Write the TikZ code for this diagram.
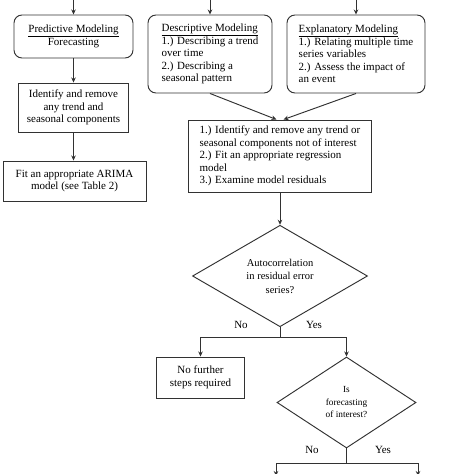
\documentclass[tikz,border=0pt]{standalone}
\usepackage{fontspec}
\setmainfont{Liberation Serif}
\usetikzlibrary{arrows.meta,shapes.geometric}
\definecolor{lineGray}{RGB}{50,50,50}

\begin{document}
\begin{tikzpicture}[x=1pt, y=-1pt, >={Stealth[length=5pt,width=4.5pt]},
    box/.style={draw=lineGray, line width=0.95pt, inner sep=0pt, align=center,
      font=\fontsize{11}{12.5}\selectfont},
    model/.style={box, rounded corners=8pt, align=left},
    decision/.style={draw=lineGray, line width=0.95pt, diamond, inner sep=0pt, align=center},
    flow/.style={->, draw=lineGray, line width=0.95pt},
    lbl/.style={font=\fontsize{11}{12.5}\selectfont, inner sep=0pt}]
    \useasboundingbox (0,0) rectangle (474,474);

    % three kinds of modeling
    \node[box, rounded corners=8pt, minimum width=119pt, minimum height=43pt] (pred) at (73.5,36.5)
      {\underline{Predictive Modeling}\\Forecasting};
    \node[model, minimum width=124pt, minimum height=78pt] (desc) at (210,54)
      {\underline{Descriptive Modeling}\\1.) Describing a trend\\over time\\2.) Describing a\\seasonal pattern};
    \node[model, minimum width=138pt, minimum height=78pt] (expl) at (356,54)
      {\underline{Explanatory Modeling}\\1.) Relating multiple time\\series variables\\2.) Assess the impact of\\an event};

    \coordinate (inPred) at (73.5,0);
    \coordinate (inDesc) at (210,0);
    \coordinate (inExpl) at (356,0);
    \draw[flow] (inPred) -- (pred.north);
    \draw[flow] (inDesc) -- (desc.north);
    \draw[flow] (inExpl) -- (expl.north);

    % forecasting branch
    \node[box, minimum width=110pt, minimum height=49pt] (remove) at (73.5,107.5)
      {Identify and remove\\any trend and\\seasonal components};
    \node[box, minimum width=143pt, minimum height=40pt] (arima) at (74.5,181)
      {Fit an appropriate ARIMA\\model (see Table 2)};
    \draw[flow] (pred.south) -- (remove.north);
    \draw[flow] (remove.south) -- (arima.north -| remove.south);

    % regression branch
    \node[box, align=left, minimum width=183pt, minimum height=72pt] (steps) at (280,156)
      {1.) Identify and remove any trend or\\seasonal components not of interest\\2.) Fit an appropriate regression\\model\\3.) Examine model residuals};
    \draw[flow] (desc.south) -- ([xshift=-3.5pt]steps.north);
    \draw[flow] (expl.south) -- ([xshift=3.5pt]steps.north);

    \node[decision, minimum width=175pt, minimum height=86pt,
      font=\fontsize{10.5}{13.5}\selectfont] (acf) at (280,276)
      {Autocorrelation\\in residual error\\series?};
    \draw[flow] (steps.south) -- (acf.north);

    \coordinate (acfSplit) at (280,337);
    \node[box, minimum width=88pt, minimum height=41pt] (nofurther) at (200.5,377.5)
      {No further\\steps required};
    \node[decision, minimum width=139pt, minimum height=91pt,
      font=\fontsize{9.3}{12.5}\selectfont] (fcst) at (346.5,402.5)
      {Is\\forecasting\\of interest?};
    \draw[lineGray, line width=0.95pt] (acf.south) -- (acfSplit);
    \draw[flow] (acfSplit) -| (nofurther.north);
    \draw[flow] (acfSplit) -| (fcst.north);
    \node[lbl] (acfNo) at (241,325) {No};
    \node[lbl] (acfYes) at (314,325) {Yes};

    \coordinate (fcstSplit) at (346.5,463);
    \coordinate (outNo) at (276,476);
    \coordinate (outYes) at (418,476);
    \draw[lineGray, line width=0.95pt] (fcst.south) -- (fcstSplit);
    \draw[flow] (fcstSplit) -| (outNo);
    \draw[flow] (fcstSplit) -| (outYes);
    \node[lbl] (fcstNo) at (312,450) {No};
    \node[lbl] (fcstYes) at (383,450) {Yes};
\end{tikzpicture}
\end{document}
